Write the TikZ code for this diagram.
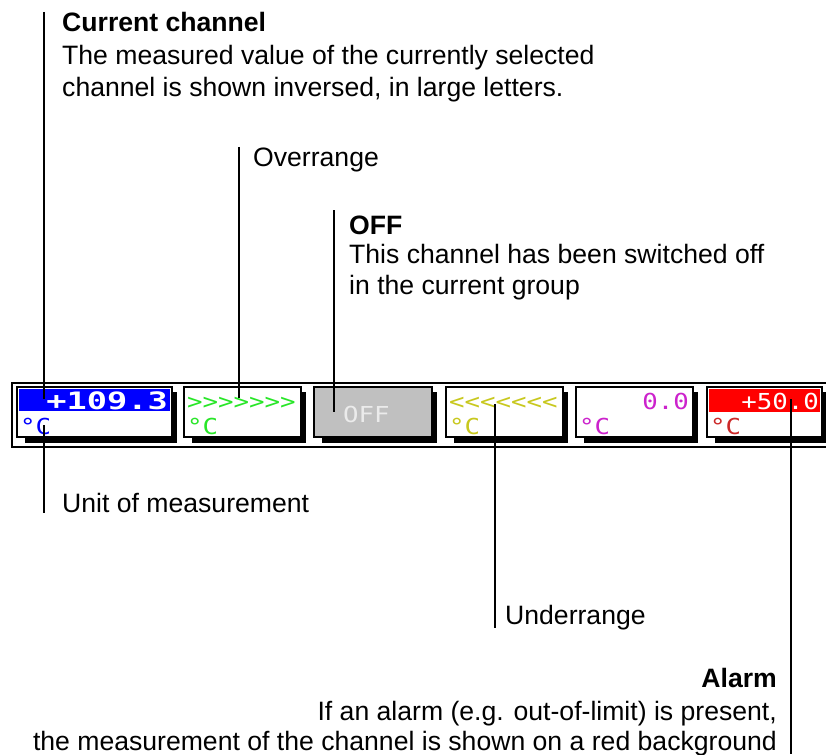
\documentclass[tikz,border=0pt]{standalone}
\usepackage{fontspec}
\setmainfont{Liberation Sans}
\newfontfamily\lcdfont[FakeStretch=1.17]{DejaVu Sans Mono}
\newfontfamily\lcdbigfont[FakeStretch=1.4]{DejaVu Sans Mono Bold}

\definecolor{lcdblue}{RGB}{0,0,255}
\definecolor{lcdgreen}{RGB}{40,230,40}
\definecolor{lcdolive}{RGB}{200,200,30}
\definecolor{lcdmagenta}{RGB}{204,34,204}
\definecolor{lcdred}{RGB}{255,0,0}
\definecolor{lcdunitred}{RGB}{204,40,40}
\definecolor{offgray}{RGB}{192,192,192}
\definecolor{offtext}{RGB}{235,235,235}

\begin{document}
\begin{tikzpicture}[x=1pt, y=-1pt,
        desc/.style={anchor=base west, inner sep=0pt, font=\fontsize{26.6}{32}\selectfont},
        descr/.style={desc, anchor=base east},
        leader/.style={line width=2.2pt},
        chbox/.style={draw=black, line width=1.6pt},
        chshadow/.style={fill=black},
        lcdbig/.style={inner sep=0pt, anchor=base east, font=\lcdbigfont\fontsize{24}{24}\selectfont},
        lcdsmall/.style={inner sep=0pt, anchor=base west, font=\lcdfont\fontsize{22}{22}\selectfont}]

        \useasboundingbox (0, 0) rectangle (826, 754);

        % texts above the bar
        \node[desc] (curtitle) at(62, 32){\textbf{Current channel}};
        \node[desc] (curline1) at(62, 65){The measured value of the currently selected};
        \node[desc] (curline2) at(62, 97){channel is shown inversed, in large letters.};

        \node[desc] (overtitle) at(253, 167){Overrange};

        \node[desc] (offtitle) at(349, 234){\textbf{OFF}};
        \node[desc] (offline1) at(349, 263){This channel has been switched off};
        \node[desc] (offline2) at(349, 294){in the current group};

        % outer frame of the bar
        \draw[line width=2.6pt] (830, 383) -| (12, 447) -- (830, 447);

        % channel 1, current
        \fill[chshadow] (25, 392) rectangle (177, 443);
        \draw[chbox, fill=white] (17, 387) rectangle (172, 437);
        \fill[lcdblue] (19, 389) rectangle (170, 411);
        \node[lcdbig, text=white] (val1) at(168, 409){+109.3};
        \node[lcdsmall, text=lcdblue] (unit1) at(20, 434){°C};

        % channel 2, overrange
        \fill[chshadow] (192, 392) rectangle (306, 443);
        \draw[chbox, fill=white] (184, 387) rectangle (301, 437);
        \node[lcdsmall, text=lcdgreen] (val2) at(187, 409){>>>>>>>};
        \node[lcdsmall, text=lcdgreen] (unit2) at(187, 434){°C};

        % channel 3, off
        \fill[chshadow] (322, 392) rectangle (437, 443);
        \draw[chbox, fill=offgray] (314, 387) rectangle (432, 437);
        \node[lcdsmall, text=offtext] (val3) at(343, 422){OFF};

        % channel 4, underrange
        \fill[chshadow] (454, 392) rectangle (568, 443);
        \draw[chbox, fill=white] (446, 387) rectangle (563, 437);
        \node[lcdsmall, text=lcdolive] (val4) at(449, 409){<<<<<<<};
        \node[lcdsmall, text=lcdolive] (unit4) at(449, 434){°C};

        % channel 5
        \fill[chshadow] (584, 392) rectangle (698, 443);
        \draw[chbox, fill=white] (576, 387) rectangle (693, 437);
        \node[lcdsmall, anchor=base east, text=lcdmagenta] (val5) at(689, 409){0.0};
        \node[lcdsmall, text=lcdmagenta] (unit5) at(579, 434){°C};

        % channel 6, alarm
        \fill[chshadow] (715, 392) rectangle (827, 443);
        \draw[chbox, fill=white] (707, 387) rectangle (822, 437);
        \fill[lcdred] (709, 389) rectangle (820, 412);
        \node[lcdsmall, anchor=base east, text=white] (val6) at(819, 409){+50.0};
        \node[lcdsmall, text=lcdunitred] (unit6) at(710, 434){°C};

        % texts below the bar
        \node[desc] (unittitle) at(62, 512){Unit of measurement};
        \node[desc] (undertitle) at(505, 624){Underrange};

        \node[descr] (alarmtitle) at(777, 687){\textbf{Alarm}};
        \node[descr] (alarmline1) at(777, 720){If an alarm (e.g. out-of-limit) is present,};
        \node[descr] (alarmline2) at(777, 750){the measurement of the channel is shown on a red background};

        % leader lines
        \coordinate (curtop) at(44, 12);
        \coordinate (curend) at(44, 399);
        \coordinate (unitend) at(44, 425);
        \coordinate (unitbot) at(44, 513);
        \coordinate (overtop) at(239, 147);
        \coordinate (overend) at(239, 398);
        \coordinate (offtop) at(334, 210);
        \coordinate (offend) at(334, 412);
        \coordinate (underend) at(495, 404);
        \coordinate (underbot) at(495, 628);
        \coordinate (alarmend) at(791, 399);
        \coordinate (alarmbot) at(791, 754);

        \draw[leader] (curtop) to (curend);
        \draw[leader] (unitend) to (unitbot);
        \draw[leader] (overtop) to (overend);
        \draw[leader] (offtop) to (offend);
        \draw[leader] (underend) to (underbot);
        \draw[leader] (alarmend) to (alarmbot);

    \end{tikzpicture}
\end{document}
